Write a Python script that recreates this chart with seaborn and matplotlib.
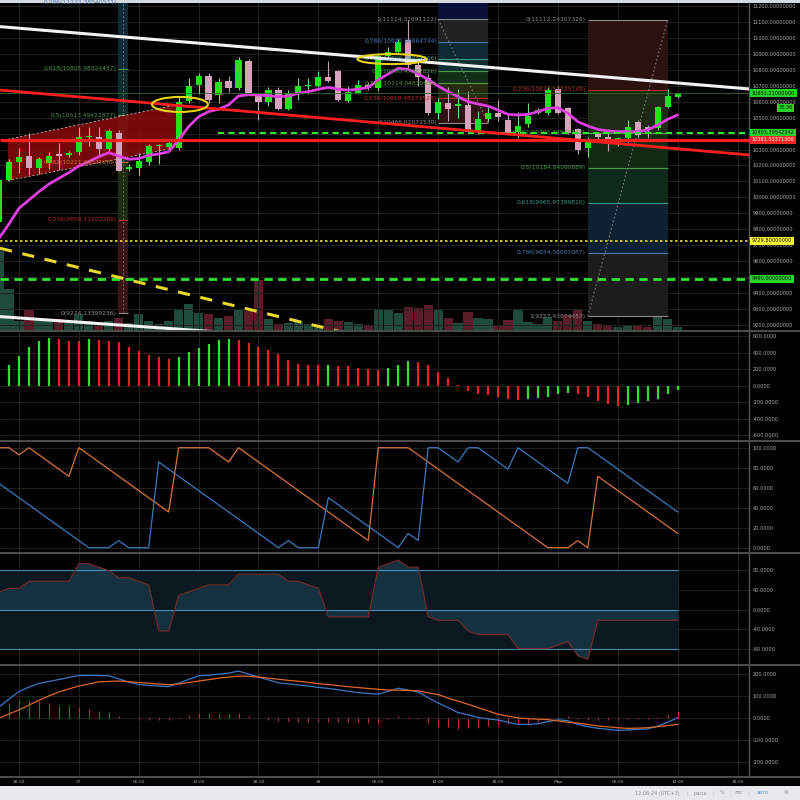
import numpy as np
import pandas as pd
import matplotlib
matplotlib.use('Agg')
import matplotlib.pyplot as plt
import matplotlib.transforms as mtransforms
from matplotlib.lines import Line2D
from matplotlib.patches import Ellipse, Polygon, Rectangle
import seaborn as sns

# hourly bars, hour 0 = 26 Feb 18:00, last bar = 1 Mar 12:00
hours = np.arange(-2, 67)

opens = [9846, 10109, 10224, 10259, 10182, 10218, 10266, 10264, 10286, 10376,
         10380, 10303, 10405, 10180, 10186, 10220, 10320, 10318, 10308, 10605,
         10704, 10760, 10641, 10731, 10683, 10856, 10641, 10599, 10672, 10552,
         10656, 10695, 10697, 10756, 10793, 10605, 10652, 10704, 10683, 10885,
         10912, 10985, 10829, 10746, 10527, 10593, 10575, 10577, 10412, 10491,
         10527, 10485, 10412, 10460, 10527, 10527, 10677, 10558, 10426, 10308,
         10395, 10380, 10349, 10370, 10474, 10443, 10433, 10564, 10631]
highs = [10120, 10240, 10308, 10401, 10250, 10285, 10339, 10290, 10443, 10443,
         10443, 10430, 10420, 10210, 10280, 10335, 10333, 10360, 10630, 10747,
         10780, 10780, 10745, 10760, 10877, 10865, 10656, 10690, 10690, 10670,
         10747, 10747, 10790, 10856, 10800, 10700, 10735, 10720, 10895, 10940,
         10990, 11110, 10850, 10770, 10620, 10690, 10680, 10665, 10540, 10580,
         10610, 10530, 10535, 10590, 10557, 10690, 10700, 10565, 10432, 10380,
         10405, 10430, 10380, 10485, 10485, 10455, 10570, 10677, 10655]
lows = [9700, 10100, 10151, 10141, 10145, 10180, 10172, 10255, 10264, 10320,
        10255, 10290, 10165, 10165, 10140, 10205, 10210, 10300, 10300, 10593,
        10650, 10593, 10590, 10660, 10675, 10645, 10485, 10575, 10545, 10545,
        10610, 10650, 10690, 10725, 10605, 10595, 10645, 10670, 10665, 10875,
        10905, 10798, 10700, 10515, 10490, 10480, 10500, 10405, 10400, 10470,
        10480, 10400, 10370, 10440, 10520, 10515, 10522, 10400, 10270, 10250,
        10360, 10290, 10320, 10345, 10370, 10370, 10420, 10557, 10625]
closes = [10109, 10224, 10255, 10182, 10239, 10259, 10262, 10280, 10380, 10382,
          10303, 10416, 10167, 10188, 10230, 10324, 10326, 10339, 10599, 10697,
          10760, 10610, 10725, 10683, 10860, 10656, 10599, 10672, 10552, 10652,
          10697, 10700, 10752, 10731, 10610, 10662, 10704, 10683, 10885, 10912,
          10975, 10829, 10756, 10527, 10599, 10552, 10579, 10412, 10491, 10527,
          10502, 10405, 10447, 10510, 10547, 10672, 10527, 10405, 10297, 10349,
          10380, 10339, 10370, 10443, 10391, 10422, 10564, 10635, 10651]
ma_line = [9744, 9834, 9932, 9984, 10036, 10084, 10120, 10155, 10197, 10224,
           10255, 10280, 10259, 10239, 10243, 10264, 10272, 10286, 10360, 10443,
           10505, 10537, 10552, 10579, 10635, 10643, 10641, 10637, 10631, 10635,
           10652, 10662, 10677, 10689, 10677, 10672, 10677, 10689, 10735, 10773,
           10808, 10802, 10773, 10739, 10697, 10662, 10631, 10599, 10585, 10572,
           10547, 10520, 10516, 10520, 10537, 10558, 10562, 10527, 10474, 10447,
           10426, 10416, 10412, 10412, 10412, 10422, 10453, 10489, 10516]
volume = [800, 417, 100, 207, 117, 100, 117, 80, 167, 100,
          90, 100, 127, 80, 173, 100, 70, 100, 217, 273,
          183, 167, 133, 150, 217, 200, 507, 117, 73, 83,
          100, 73, 50, 123, 100, 93, 73, 50, 217, 210,
          183, 240, 233, 260, 207, 133, 83, 193, 133, 117,
          60, 107, 217, 93, 73, 140, 100, 160, 217, 100,
          67, 50, 40, 60, 50, 40, 140, 117, 40]

# oscillator histogram (second pane), bars from hour -1
osc_hours = np.arange(-1, 67)
osc_hist = [253, 363, 466, 545, 572, 560, 545, 541, 560, 553,
            545, 529, 470, 418, 375, 343, 324, 351, 407, 458,
            505, 549, 568, 557, 521, 470, 434, 383, 312, 260,
            253, 245, 248, 240, 237, 209, 197, 189, 217, 253,
            292, 280, 245, 166, 87, 3, -63, -103, -110, -134,
            -162, -174, -166, -150, -134, -103, -87, -103, -134, -182,
            -221, -241, -229, -205, -189, -158, -103, -47]

aroon_up = [100, 100, 92.9, 100, 92.9, 85.7, 78.6, 71.4, 100, 92.9,
            85.7, 78.6, 71.4, 64.3, 57.1, 50, 42.9, 35.7, 100, 100,
            100, 100, 92.9, 85.7, 100, 92.9, 85.7, 78.6, 71.4, 64.3,
            57.1, 50, 42.9, 35.7, 28.6, 21.4, 14.3, 7.1, 100, 100,
            100, 100, 92.9, 85.7, 78.6, 71.4, 64.3, 57.1, 50, 42.9,
            35.7, 28.6, 21.4, 14.3, 7.1, 0, 0, 0, 7.1, 0,
            71.4, 64.3, 57.1, 50, 42.9, 35.7, 28.6, 21.4, 14.3]
aroon_down = [64.3, 57.1, 50, 42.9, 35.7, 28.6, 21.4, 14.3, 7.1, 0,
              0, 0, 7.1, 0, 0, 0, 85.7, 78.6, 71.4, 64.3,
              57.1, 50, 42.9, 35.7, 28.6, 21.4, 14.3, 7.1, 0, 7.1,
              0, 0, 0, 50, 42.9, 35.7, 28.6, 21.4, 14.3, 7.1,
              0, 14.3, 7.1, 100, 100, 92.9, 85.7, 100, 100, 92.9,
              85.7, 78.6, 100, 92.9, 85.7, 78.6, 71.4, 64.3, 100, 100,
              92.9, 85.7, 78.6, 71.4, 64.3, 57.1, 50, 42.9, 35.7]

macd = [50, 85, 120, 140, 157, 166, 175, 184, 193, 194,
        193, 192, 178, 163, 152, 148, 145, 142, 158, 175,
        192, 194, 199, 204, 213, 200, 186, 173, 160, 155,
        150, 145, 139, 134, 128, 121, 115, 111, 108, 121,
        135, 127, 118, 92, 68, 47, 24, 14, 2, -5,
        -10, -20, -30, -30, -27, -17, -9, -13, -30, -40,
        -48, -52, -57, -55, -53, -50, -38, -20, 0]
signal = [-2, 18, 36, 58, 80, 100, 118, 132, 145, 155,
          164, 166, 168, 165, 161, 158, 154, 151, 154, 161,
          168, 174, 181, 186, 190, 190, 186, 181, 176, 171,
          167, 162, 156, 152, 147, 142, 138, 134, 130, 127,
          126, 125, 123, 114, 106, 90, 76, 62, 47, 32,
          16, 8, 0, -4, -6, -8, -14, -20, -24, -30,
          -37, -41, -45, -48, -47, -45, -40, -35, -30]

tick_hours = [0, 6, 12, 18, 24, 30, 36, 42, 48, 54, 60, 66, 72]
tick_labels = ['18:00', '27', '06:00', '12:00', '18:00', '28', '06:00',
               '12:00', '18:00', 'Мар', '06:00', '12:00', '18:00']

# drawings on the price pane (hour, price)
fib_levels = ['0', '0.236', '0.382', '0.5', '0.618', '0.786', '1']
fib1_prices = [9274.13399236, 9859.11202286, 10221.00521289, 10513.49422877,
               10805.98324457, 11222.38540521]
fib2_prices = [10466.62072530, 10619.48174525, 10714.04830886, 10790.47382826,
               10866.89934766, 10975.66664744, 11114.32691122]
fib3_prices = [11112.24307326, 10674.51725148, 10403.39542342, 10184.84090889,
               9965.97399810, 9654.36687087, 9257.43874453]

sns.set_theme(style='dark')
plt.rcParams['font.family'] = ['DejaVu Sans']

df = pd.DataFrame({'hour': hours, 'open': opens, 'high': highs, 'low': lows,
                   'close': closes, 'ma': ma_line, 'volume': volume,
                   'aroon_up': aroon_up, 'aroon_down': aroon_down,
                   'macd': macd, 'signal': signal})
df['osc'] = df['aroon_up'] - df['aroon_down']
df['macd_hist'] = df['macd'] - df['signal']
rising = df['close'] >= df['open']

X_MIN, X_MAX = -1.9, 73.15
Y_MIN, Y_MAX = 9164, 11217
TXT = '#a9a9a9'
GRID = '#222222'

fig = plt.figure(figsize=(8, 8), dpi=100, facecolor='black')


def panel(top, bottom):
    return fig.add_axes([0, 1 - bottom / 800, 749 / 800, (bottom - top) / 800])


def style(a, ylim, yticks, fmt):
    a.set_facecolor('black')
    a.set_xlim(X_MIN, X_MAX)
    a.set_ylim(*ylim)
    a.set_xticks(tick_hours)
    a.set_yticks(yticks)
    a.set_yticklabels([fmt % v for v in yticks])
    a.yaxis.tick_right()
    a.tick_params(axis='y', length=0, pad=2.5, labelsize=3.6, colors=TXT)
    a.tick_params(axis='x', length=0, labelbottom=False)
    a.grid(True, color=GRID, lw=0.7)
    a.set_axisbelow(True)
    for s in a.spines.values():
        s.set_visible(False)
    a.spines['right'].set_visible(True)
    a.spines['right'].set_color('#555555')
    a.spines['right'].set_linewidth(1)
    a.set_xlabel('')
    a.set_ylabel('')


# ---------------- price pane ----------------
ax = panel(3, 331)
ax_vol = ax.twinx()
ax_vol.set_facecolor('black')
vol_colors = np.where(rising, '#1f4b3c', '#5a1c29')
ax_vol.bar(df['hour'], df['volume'], width=0.92, color=vol_colors, lw=0)
ax_vol.set_ylim(0, 3280)
ax_vol.set_yticks([])
ax_vol.grid(False)
for s in ax_vol.spines.values():
    s.set_visible(False)
ax.set_zorder(ax_vol.get_zorder() + 1)
ax.patch.set_visible(False)

style(ax, (Y_MIN, Y_MAX), list(range(9200, 11201, 100)), '%.8f')

lvl_col = {'0': '#8a8a8a', '0.236': '#b82c2c', '0.382': '#5c9a3a', '0.5': '#4a9c4a',
           '0.618': '#3a9a86', '0.786': '#4a78b0', '1': '#8a8a8a'}


def draw_fib(prices, h0, h1, fills, label_h, colors=None, top_fill=None):
    colors = colors or lvl_col
    for i in range(len(prices) - 1):
        ax.fill_between([h0, h1], prices[i], prices[i + 1], color=fills[i], lw=0, zorder=1)
    if top_fill:
        ax.fill_between([h0, h1], max(prices), Y_MAX, color=top_fill, lw=0, zorder=1)
    for lvl, p in zip(fib_levels, prices):
        c = colors[lvl]
        ax.hlines(p, h0, h1, color=c, lw=0.8, zorder=1.2)
        ax.text(label_h, p, f'{lvl}({p:.8f})', ha='right', va='center',
                fontsize=4.3, color=c, zorder=6)


fib1_cols = dict(lvl_col, **{'0.382': '#c8782a', '0.618': '#4a9c4a'})
draw_fib(fib1_prices, 9.9, 10.9,
         ['#3a1313', '#1f2c12', '#16301c', '#0f2d2d', '#0d2a36'], 9.8, fib1_cols)
ax.vlines(10.4, fib1_prices[0], Y_MAX, color='#6a6a6a', ls=(0, (2, 2)), lw=0.7, zorder=1.3)
draw_fib(fib2_prices, 42.0, 47.0,
         ['#2e1212', '#252a10', '#123018', '#0f3030', '#0f2a35', '#222222'], 41.9,
         top_fill='#0b0f38')
ax.plot([42.0, 47.0], [fib2_prices[-1], fib2_prices[0]], color='#7a7a7a',
        ls=(0, (1.5, 2)), lw=0.8, zorder=1.4)
draw_fib(fib3_prices, 57.0, 65.0,
         ['#2c1111', '#1e2a13', '#122a14', '#0f2a1b', '#0e2132', '#1c1c1c'], 56.8)
ax.plot([57.0, 65.0], [fib3_prices[-1], fib3_prices[0]], color='#7a7a7a',
        ls=(0, (1.5, 2)), lw=0.8, zorder=1.4)

# red channel
chan = Polygon([(-1.1, 10364), (15.8, 10580), (15.8, 10313), (-1.1, 10105)],
               closed=True, fc='#8b0b0b', ec='none', alpha=0.85, zorder=1.5)
ax.add_patch(chan)
ax.plot([-1.1, 15.8], [10364, 10580], color='#d8d8d8', ls=(0, (3, 3)), lw=0.5, zorder=1.6)
ax.plot([-1.1, 15.8], [10105, 10313], color='#d8d8d8', ls=(0, (3, 3)), lw=0.5, zorder=1.6)

# candles
wick_col = np.where(rising, '#7fd77f', '#bfa2b2')
body_col = np.where(rising, '#1ee41e', '#d6a3bc')
ax.vlines(df['hour'], df['low'], df['high'], color=wick_col, lw=0.8, zorder=3)
body_low = np.minimum(df['open'], df['close'])
body_h = np.maximum(np.abs(df['close'] - df['open']), 7)
ax.bar(df['hour'], body_h, bottom=body_low, width=0.62, color=body_col, lw=0, zorder=4)

sns.lineplot(data=df, x='hour', y='ma', ax=ax, color='#e03ee0', lw=2, sort=False,
             zorder=5, legend=False)

# horizontal levels and trend lines (drawn above the series)
ax.hlines(10651.21, X_MIN, X_MAX, color='#2c6a2c', lw=0.6, zorder=6)
ax.hlines(10361.53371306, X_MIN, X_MAX, color='#ff1e1e', lw=2.3, zorder=6)
ax.hlines(10403.39542342, 19.9, X_MAX, color='#2ee62e', ls=(0, (3, 2)), lw=1.5, zorder=6)
ax.hlines(9729.8, X_MIN, X_MAX, color='#eedd22', ls=(0, (1.5, 1.5)), lw=1.2, zorder=6)
ax.hlines(9490.0, X_MIN, X_MAX, color='#2ee62e', ls=(0, (3, 2)), lw=2.0, zorder=6)
ax.plot([X_MIN, X_MAX], [11069, 10679], color='#f2f2f2', lw=2.2, zorder=6)
ax.plot([X_MIN, 40], [9254, 9070], color='#f2f2f2', lw=2.2, zorder=6)
ax.plot([X_MIN, X_MAX], [10672, 10266], color='#ff1e1e', lw=2.0, zorder=6)
ax.plot([X_MIN, 40], [9682, 9040], color='#e8d82a', ls=(0, (4, 3.5)), lw=2.2, zorder=6)
ax.plot([35.9, 40.9], [10866, 10866], color='#bfe6ee', lw=1.0, zorder=6)
ax.add_patch(Ellipse((16.13, 10582), 5.6, 94, fill=False, ec='#e8d21a', lw=1.5, zorder=7))
ax.add_patch(Ellipse((37.37, 10866), 6.9, 63, fill=False, ec='#e8d21a', lw=1.5, zorder=7))
ax.set_xlabel('')
ax.set_ylabel('')

# price boxes on the right scale
trans = mtransforms.blended_transform_factory(ax.transAxes, ax.transData)
price_boxes = [(10651.21, '10651.21000000', '#27d327', '#0a0a0a'),
               (10403.39542342, '10403.39542342', '#27d327', '#0a0a0a'),
               (10361.53371306, '10361.53371306', '#ff2424', '#ffffff'),
               (9729.8, '9729.80000000', '#f4f43a', '#111111'),
               (9490.0, '9490.00000000', '#27d327', '#0a0a0a')]
for p, label, fc, tc in price_boxes:
    ax.text(1.004, p, label, transform=trans, ha='left', va='center', fontsize=3.6,
            color=tc, bbox=dict(boxstyle='square,pad=0.3', fc=fc, ec='none'),
            clip_on=False, zorder=10)
ax.text(1.039, 10560, '33:36', transform=trans, ha='left', va='center', fontsize=3.6,
        color='#0a0a0a', bbox=dict(boxstyle='square,pad=0.3', fc='#27d327', ec='none'),
        clip_on=False, zorder=11)

# ---------------- oscillator histogram ----------------
ax2 = panel(331, 441)
hist_cols = ['#2fe02f' if i > 0 and osc_hist[i] > osc_hist[i - 1] or i == 0 else '#f01f1f'
             for i in range(len(osc_hist))]
ax2.vlines(osc_hours, 0, osc_hist, colors=hist_cols, lw=1.6)
style(ax2, (-669, 660), [600, 400, 200, 0, -200, -400, -600], '%.4f')

# ---------------- aroon ----------------
ax3 = panel(441, 553)
sns.lineplot(data=df, x='hour', y='aroon_up', ax=ax3, color='#d9733c', lw=0.9, sort=False)
sns.lineplot(data=df, x='hour', y='aroon_down', ax=ax3, color='#3b78bd', lw=0.9, sort=False)
style(ax3, (-5.3, 106.7), [100, 80, 60, 40, 20, 0], '%.4f')

# ---------------- aroon oscillator ----------------
ax4 = panel(553, 665)
ax4.fill_between([-2, 66], -80, 80, color='#0b1820', lw=0, zorder=0.8)
ax4.fill_between(df['hour'], 0, df['osc'], color='#15303f', lw=0, zorder=1)
ax4.hlines([80, 0, -80], -2, 66, color='#4a8db0', lw=0.8, zorder=2)
sns.lineplot(data=df, x='hour', y='osc', ax=ax4, color='#6e2c2c', lw=0.9, sort=False, zorder=3)
style(ax4, (-111.7, 114.3), [80, 40, 0, -40, -80], '%.4f')

# ---------------- macd ----------------
ax5 = panel(665, 777)
ax5.vlines(df['hour'], 0, df['macd_hist'], color='#c4283c', lw=0.8)
sns.lineplot(data=df, x='hour', y='macd', ax=ax5, color='#3b78c8', lw=0.9, sort=False)
sns.lineplot(data=df, x='hour', y='signal', ax=ax5, color='#e0662a', lw=0.9, sort=False)
style(ax5, (-269.8, 241), [200, 100, 0, -100, -200], '%.4f')
ax5.set_xticklabels(tick_labels)
ax5.tick_params(axis='x', labelbottom=True, labelsize=3.2, colors=TXT, pad=2.5)

# pane separators and window chrome
for ypx in [331, 441, 553, 665, 777]:
    fig.add_artist(Line2D([0, 1], [1 - ypx / 800] * 2, transform=fig.transFigure,
                          color='#4e4e4e', lw=1.4))
fig.add_artist(Rectangle((0, 797 / 800), 1, 3 / 800, transform=fig.transFigure,
                         fc='#d5d8dc', ec='none'))
fig.add_artist(Rectangle((0, 0), 1, 14 / 800, transform=fig.transFigure,
                         fc='#e6e8eb', ec='none'))
status = [(657, '12:06:24 (UTC+3)', '#8a8a8a'), (687, '|', '#c0c0c0'),
          (700, 'расш', '#8a8a8a'), (713, '|', '#c0c0c0'), (722, '%', '#8a8a8a'),
          (730, '|', '#c0c0c0'), (739, 'лог', '#8a8a8a'), (748, '|', '#c0c0c0'),
          (763, 'авто', '#5b9bd5'), (786, '⚙', '#8a8a8a')]
for xp, t, c in status:
    fig.text(xp / 800, 7 / 800, t, ha='center', va='center', fontsize=3.6, color=c)

fig.savefig('out.png', dpi=100, facecolor='black')
